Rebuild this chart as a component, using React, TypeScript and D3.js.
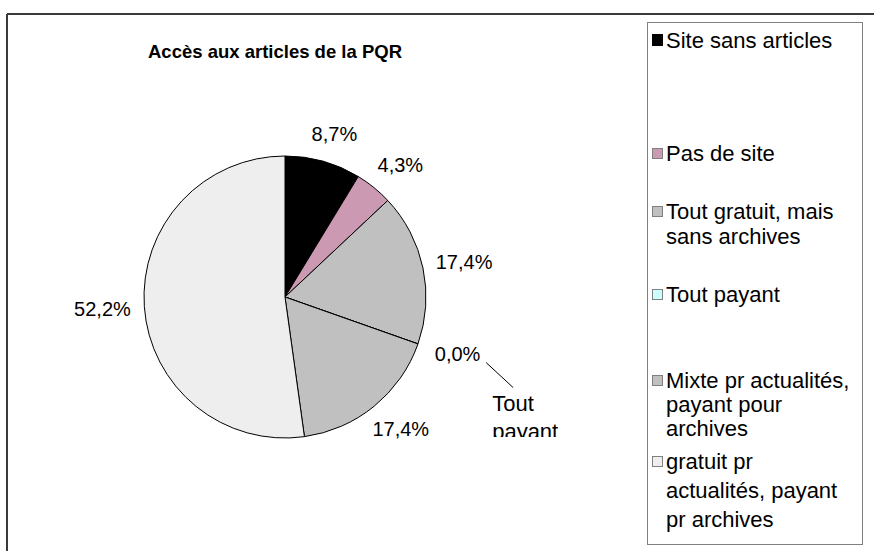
import React from "react";
import * as d3 from "d3";

const categories = [
  "Site sans articles",
  "Pas de site",
  "Tout gratuit, mais sans archives",
  "Tout payant",
  "Mixte pr actualités, payant pour archives",
  "gratuit pr actualités, payant pr archives",
];
const values = [8.7, 4.3, 17.4, 0.0, 17.4, 52.2];
const valueLabels = ["8,7%", "4,3%", "17,4%", "0,0%", "17,4%", "52,2%"];
const legendLines = [
  ["Site sans articles"],
  ["Pas de site"],
  ["Tout gratuit, mais", "sans archives"],
  ["Tout payant"],
  ["Mixte pr actualités,", "payant pour", "archives"],
  ["gratuit pr", "actualités, payant", "pr archives"],
];
const zeroLabelLines = ["Tout", "payant"];
const title = "Accès aux articles de la PQR";

const colors = ["#000000", "#CC99B2", "#C0C0C0", "#CCFFFF", "#C0C0C0", "#EEEEEE"];
// layout (not data)
const LEGEND_Y = [40, 153, 211, 294, 380, 461];
const LEGEND_LINE_H = [25, 25, 25, 25, 24, 29];

const W = 874;
const H = 551;
const FONT = "'Liberation Sans', Arial, Helvetica, sans-serif";

export default function App() {
  const cx = 285;
  const cy = 297;
  const r = 141;
  const pie = d3.pie<number>().sort(null).value((d) => d)(values);
  const arc = d3.arc<d3.PieArcDatum<number>>().innerRadius(0).outerRadius(r);

  const labelPos = (a: d3.PieArcDatum<number>) => {
    const th = (a.startAngle + a.endAngle) / 2;
    const RX = 183;
    const RY = 170;
    const x = Math.sin(th) * RX;
    const y = -Math.cos(th) * RY;
    return [x, y];
  };

  const zeroIdx = values.findIndex((v) => v === 0);
  const zp = labelPos(pie[zeroIdx]);

  return (
    <svg
      width={W}
      height={H}
      style={{ position: "absolute", left: 0, top: 0, background: "#fff" }}
      fontFamily={FONT}
    >
      <defs>
        <clipPath id="plotClip">
          <rect x={0} y={0} width={W} height={437} />
        </clipPath>
      </defs>
      <rect x={0} y={0} width={W} height={H} fill="#fff" />
      <line x1={7} y1={14} x2={W} y2={14} stroke="#3a3a3a" strokeWidth={2} />
      <line x1={7} y1={14} x2={7} y2={H} stroke="#3a3a3a" strokeWidth={2} />

      <text x={275} y={58} textAnchor="middle" fontWeight="bold" fontSize={18.5}>
        {title}
      </text>

      <g transform={`translate(${cx},${cy})`}>
        {pie.map((a, i) => (
          <path key={i} d={arc(a) || ""} fill={colors[i]} stroke="#000" strokeWidth={1} />
        ))}
        {pie.map((a, i) => {
          const [x, y] = labelPos(a);
          return (
            <text key={"l" + i} x={x} y={y} dy="0.36em" textAnchor="middle" fontSize={20}>
              {valueLabels[i]}
            </text>
          );
        })}
        <line
          x1={zp[0] + 28.6}
          y1={zp[1] + 9}
          x2={zp[0] + 55.6}
          y2={zp[1] + 34}
          stroke="#000"
          strokeWidth={1}
        />
        <g clipPath="url(#plotClip)" transform={`translate(${-cx},${-cy})`}>
          {zeroLabelLines.map((t, j) => (
            <text key={"z" + j} x={cx + zp[0] + 34.6} y={cy + zp[1] + 57 + j * 28} fontSize={22}>
              {t}
            </text>
          ))}
        </g>
      </g>

      <rect x={647.5} y={22.5} width={215} height={522} fill="#fff" stroke="#808080" strokeWidth={1} />
      {categories.map((c, i) => (
        <g key={"lg" + i}>
          {i === 0 ? (
            <rect x={652} y={LEGEND_Y[i] - 6} width={11} height={12} fill={colors[i]} />
          ) : (
            <rect
              x={652.5}
              y={LEGEND_Y[i] - 4.5}
              width={10}
              height={10}
              fill={colors[i]}
              stroke="#808080"
              strokeWidth={1}
            />
          )}
          {legendLines[i].map((t, j) => (
            <text
              key={j}
              x={666}
              y={LEGEND_Y[i] + j * LEGEND_LINE_H[i]}
              dy="0.36em"
              fontSize={22}
            >
              {t}
            </text>
          ))}
        </g>
      ))}
    </svg>
  );
}
